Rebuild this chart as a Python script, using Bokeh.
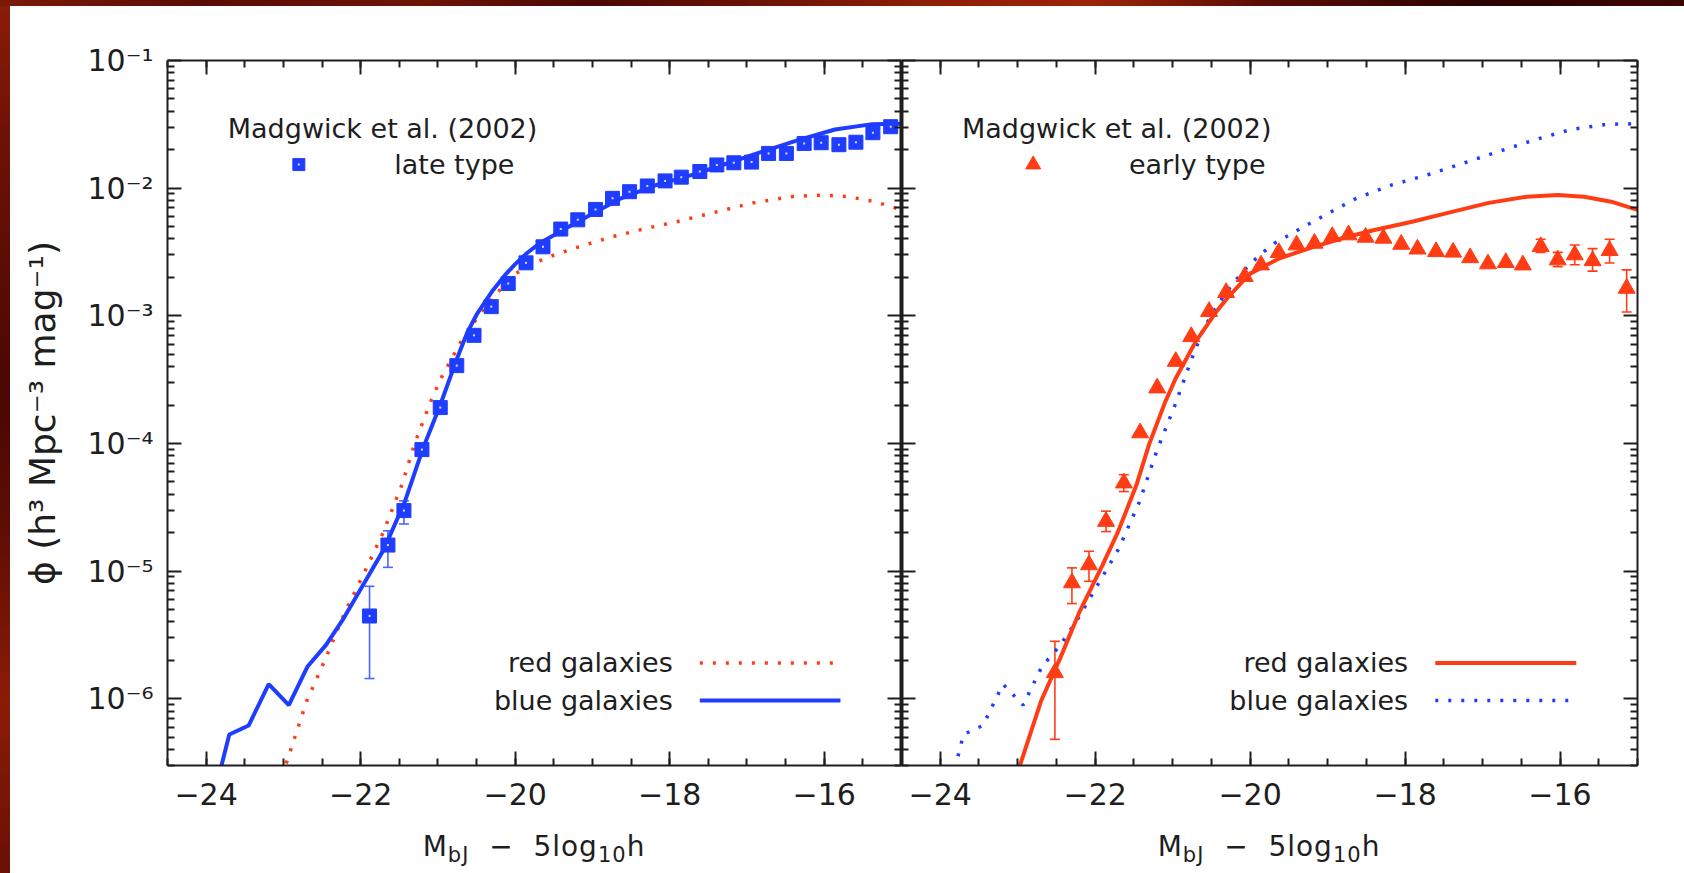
import numpy as np
from bokeh.plotting import figure
from bokeh.models import (ColumnDataSource, LinearAxis, LogAxis, FixedTicker, Whisker,
                          TeeHead, Label, Div, Range1d)
from bokeh.layouts import row, column
from bokeh.embed import file_html
from bokeh.resources import INLINE

# ---------------- data ----------------
# Madgwick et al. (2002) late type (blue squares)
late_mag = [-21.885, -21.647, -21.44, -21.207, -20.97, -20.756, -20.533, -20.31, -20.09, -19.86,
            -19.64, -19.41, -19.19, -18.96, -18.74, -18.52, -18.29, -18.06, -17.85, -17.61,
            -17.39, -17.17, -16.94, -16.72, -16.49, -16.26, -16.04, -15.81, -15.59, -15.37, -15.14]
late_phi = [4.45e-6, 1.60e-5, 2.98e-5, 8.95e-5, 1.91e-4, 4.07e-4, 7.03e-4, 1.18e-3, 1.79e-3, 2.60e-3,
            3.47e-3, 4.78e-3, 5.65e-3, 6.81e-3, 8.32e-3, 9.38e-3, 1.04e-2, 1.14e-2, 1.22e-2, 1.35e-2,
            1.52e-2, 1.58e-2, 1.60e-2, 1.87e-2, 1.87e-2, 2.24e-2, 2.27e-2, 2.19e-2, 2.29e-2, 2.72e-2, 3.03e-2]
late_err_mag = [-21.885, -21.647, -21.44]
late_err_lo = [1.44e-6, 1.07e-5, 2.34e-5]
late_err_hi = [7.6e-6, 2.07e-5, 3.55e-5]

# Madgwick et al. (2002) early type (red triangles)
early_mag = [-22.52, -22.30, -22.08, -21.86, -21.63, -21.42, -21.20, -20.96, -20.76, -20.53,
             -20.31, -20.07, -19.86, -19.63, -19.40, -19.17, -18.94, -18.73, -18.51, -18.28,
             -18.05, -17.84, -17.60, -17.38, -17.16, -16.93, -16.70, -16.48, -16.25, -16.03,
             -15.81, -15.58, -15.36, -15.14]
early_phi = [1.60e-6, 8.09e-6, 1.12e-5, 2.45e-5, 4.90e-5, 1.21e-4, 2.72e-4, 4.39e-4, 6.87e-4, 1.08e-3,
             1.52e-3, 2.03e-3, 2.50e-3, 3.13e-3, 3.59e-3, 3.70e-3, 4.17e-3, 4.30e-3, 4.12e-3, 4.05e-3,
             3.63e-3, 3.33e-3, 3.18e-3, 3.15e-3, 2.85e-3, 2.55e-3, 2.61e-3, 2.50e-3, 3.48e-3, 2.74e-3,
             3.00e-3, 2.70e-3, 3.24e-3, 1.64e-3]
early_err_mag = [-22.52, -22.30, -22.08, -21.86, -21.63, -16.25, -16.03, -15.81, -15.58, -15.36, -15.14]
early_err_lo = [4.81e-7, 5.57e-6, 8.32e-6, 2.04e-5, 4.2e-5, 3.13e-3, 2.43e-3, 2.51e-3, 2.24e-3, 2.59e-3, 1.07e-3]
early_err_hi = [2.82e-6, 1.06e-5, 1.43e-5, 2.95e-5, 5.69e-5, 3.98e-3, 3.14e-3, 3.59e-3, 3.36e-3, 3.98e-3, 2.29e-3]

# model luminosity functions
red_model_mag = [-23.10, -22.97, -22.70, -22.45, -22.21, -21.91, -21.71, -21.47, -21.30, -21.10,
                 -20.96, -20.70, -20.45, -20.28, -20.00, -19.62, -19.23, -18.80, -18.41, -17.91,
                 -17.42, -16.92, -16.43, -16.03, -15.69, -15.34, -15.00]
red_model_phi = [1.58e-7, 3.02e-7, 9.55e-7, 2.09e-6, 4.68e-6, 1.10e-5, 2.00e-5, 4.68e-5, 1.00e-4, 2.09e-4,
                 3.24e-4, 6.31e-4, 1.05e-3, 1.41e-3, 2.14e-3, 2.82e-3, 3.39e-3, 4.07e-3, 4.68e-3, 5.46e-3,
                 6.46e-3, 7.67e-3, 8.57e-3, 8.83e-3, 8.57e-3, 7.83e-3, 6.75e-3]
blue_model_mag = [-23.87, -23.80, -23.70, -23.45, -23.19, -22.93, -22.69, -22.45, -22.22, -21.98,
                  -21.70, -21.43, -21.20, -20.97, -20.75, -20.62, -20.50, -20.40, -20.29, -20.13,
                  -20.00, -19.85, -19.68, -19.50, -19.33, -19.00, -18.63, -18.17, -17.71, -17.26,
                  -16.80, -16.34, -15.86, -15.40, -15.00]
blue_model_phi = [1.78e-7, 3.02e-7, 5.25e-7, 6.17e-7, 1.30e-6, 8.91e-7, 1.78e-6, 2.63e-6, 4.27e-6, 7.59e-6,
                  1.48e-5, 3.47e-5, 8.91e-5, 2.00e-4, 4.68e-4, 7.41e-4, 1.02e-3, 1.26e-3, 1.58e-3, 2.09e-3,
                  2.54e-3, 3.09e-3, 3.72e-3, 4.27e-3, 4.90e-3, 6.31e-3, 8.32e-3, 1.06e-2, 1.27e-2, 1.56e-2,
                  1.93e-2, 2.38e-2, 2.88e-2, 3.16e-2, 3.20e-2]

x_tick_values = [-24, -22, -20, -18, -16]
x_tick_labels = ["\u221224", "\u221222", "\u221220", "\u221218", "\u221216"]
y_tick_values = [1e-6, 1e-5, 1e-4, 1e-3, 1e-2, 1e-1]
y_tick_labels = ["10\u207b\u2076", "10\u207b\u2075", "10\u207b\u2074",
                 "10\u207b\u00b3", "10\u207b\u00b2", "10\u207b\u00b9"]

# ---------------- style ----------------
BLUE = "#1f3dff"
RED = "#ff3c14"
INK = "#1e1e1e"
FONT = "DejaVu Sans"
DOTS = "3 10"
X_RANGE = (-24.5, -15.0)
Y_RANGE = (3.0e-7, 0.1)
FIG_H = 819
LABEL_H = 48

x_minor = list(np.arange(-24.5, -14.99, 0.5))
y_minor = [m * 10.0 ** e for e in range(-7, -1) for m in range(2, 10)
           if Y_RANGE[0] <= m * 10.0 ** e <= Y_RANGE[1]]


def style_axis(ax, ticks, labels=None, line_w=2):
    ax.axis_line_color = INK
    ax.axis_line_width = line_w
    ax.major_tick_in = 14
    ax.major_tick_out = 0
    ax.minor_tick_in = 7
    ax.minor_tick_out = 0
    ax.major_tick_line_color = INK
    ax.major_tick_line_width = 2
    ax.minor_tick_line_color = INK
    ax.minor_tick_line_width = 2
    if labels is not None:
        ax.major_label_overrides = dict(zip(ticks, labels))
        ax.major_label_text_font = FONT
        ax.major_label_text_font_size = "30px"
        ax.major_label_text_color = INK
    else:
        ax.major_label_overrides = {t: "" for t in ticks}
        ax.major_label_text_font_size = "1px"
        ax.major_label_standoff = 0


def panel(width, border_left, border_right, y_labels):
    p = figure(width=width, height=FIG_H, x_range=Range1d(*X_RANGE), y_range=Range1d(*Y_RANGE),
               y_axis_type="log", x_axis_location=None, y_axis_location=None,
               output_backend="svg", toolbar_location=None,
               min_border_left=border_left, min_border_right=border_right,
               min_border_top=54, min_border_bottom=60)
    p.outline_line_color = None
    p.background_fill_color = "white"
    p.border_fill_color = "white"
    p.grid.visible = False

    xt = FixedTicker(ticks=x_tick_values, minor_ticks=x_minor)
    yt = FixedTicker(ticks=y_tick_values, minor_ticks=y_minor)

    bottom = LinearAxis(ticker=xt)
    style_axis(bottom, x_tick_values, x_tick_labels)
    bottom.major_label_standoff = 17
    top = LinearAxis(ticker=xt)
    style_axis(top, x_tick_values)
    left = LogAxis(ticker=yt)
    right = LogAxis(ticker=yt)
    if y_labels:
        style_axis(left, y_tick_values, y_tick_labels, line_w=2)
        style_axis(right, y_tick_values, line_w=4)
        left.major_label_standoff = 14
        left.axis_label = "\u03d5 (h\u00b3 Mpc\u207b\u00b3 mag\u207b\u00b9)"
        left.axis_label_text_font = FONT
        left.axis_label_text_font_size = "36px"
        left.axis_label_text_font_style = "normal"
        left.axis_label_text_color = INK
        left.axis_label_standoff = 21
    else:
        style_axis(left, y_tick_values, line_w=4)
        style_axis(right, y_tick_values, line_w=2)
    p.add_layout(bottom, "below")
    p.add_layout(top, "above")
    p.add_layout(left, "left")
    p.add_layout(right, "right")
    return p


def x_title(frame_left, frame_width, right_pad):
    sub = "font-size:21px;position:relative;top:6px"
    html = (f"M<span style='{sub}'>bJ</span>&nbsp;&nbsp;&minus;&nbsp;&nbsp;"
            f"5log<span style='{sub}'>10</span>h")
    return Div(text=html, width=frame_width, height=LABEL_H, margin=(0, right_pad, 0, frame_left),
               styles={"font-family": FONT, "font-size": "28px", "color": INK,
                       "text-align": "center", "white-space": "nowrap", "line-height": "34px",
                       "letter-spacing": "1px", "padding-top": "5px", "background": "white"})


def text(p, x, y, t, align="left", baseline="alphabetic"):
    p.add_layout(Label(x=x, y=y, text=t, text_font=FONT, text_font_size="27px", text_color=INK,
                       text_align=align, text_baseline=baseline))


def squares(p, xs, ys, size):
    p.scatter(xs, ys, marker="square", size=size, fill_color=BLUE, line_color=BLUE, line_width=1)
    p.scatter(xs, ys, marker="square", size=2, fill_color="white", line_color=None, fill_alpha=0.8)


def errors(p, xs, lo, hi, color):
    src = ColumnDataSource(dict(x=xs, lo=lo, hi=hi))
    p.add_layout(Whisker(source=src, base="x", lower="lo", upper="hi", dimension="height",
                         line_color=color, line_width=1.6,
                         upper_head=TeeHead(size=10, line_color=color, line_width=1.6),
                         lower_head=TeeHead(size=10, line_color=color, line_width=1.6)))


# legend geometry (data coordinates of the in-plot key)
KEY_TITLE = (-23.72, 0.0294)
KEY_MARK = (-22.80, 0.0153)
KEY_TEXT = (-21.565, 0.0153)
KEY_LINE_X = [-17.61, -15.79]
KEY_TEXT_X = -17.96
KEY_RED_Y = 1.91e-6
KEY_BLUE_Y = 9.7e-7

# ---------------- left panel: late type ----------------
pl = panel(891, 157, 0, True)
pl.line(red_model_mag, red_model_phi, line_color=RED, line_width=3.5, line_dash=DOTS)
pl.line(blue_model_mag, blue_model_phi, line_color=BLUE, line_width=4)
errors(pl, late_err_mag, late_err_lo, late_err_hi, "#4a66ff")
squares(pl, late_mag, late_phi, 14)

text(pl, KEY_TITLE[0], KEY_TITLE[1], "Madgwick et al. (2002)")
squares(pl, [KEY_MARK[0]], [KEY_MARK[1]], 12)
text(pl, KEY_TEXT[0], KEY_TEXT[1], "late type")
text(pl, KEY_TEXT_X, KEY_RED_Y, "red galaxies", align="right", baseline="middle")
text(pl, KEY_TEXT_X, KEY_BLUE_Y, "blue galaxies", align="right", baseline="middle")
pl.line(KEY_LINE_X, [KEY_RED_Y, KEY_RED_Y], line_color=RED, line_width=3.5, line_dash=DOTS)
pl.line(KEY_LINE_X, [KEY_BLUE_Y, KEY_BLUE_Y], line_color=BLUE, line_width=4)

# ---------------- right panel: early type ----------------
pr = panel(783, 0, 47, False)
pr.line(blue_model_mag, blue_model_phi, line_color=BLUE, line_width=3.5, line_dash=DOTS)
pr.line(red_model_mag, red_model_phi, line_color=RED, line_width=4)
errors(pr, early_err_mag, early_err_lo, early_err_hi, RED)
pr.scatter(early_mag, early_phi, marker="triangle", size=17, fill_color=RED, line_color=RED)

text(pr, KEY_TITLE[0], KEY_TITLE[1], "Madgwick et al. (2002)")
pr.scatter([KEY_MARK[0]], [KEY_MARK[1]], marker="triangle", size=15, fill_color=RED, line_color=RED)
text(pr, KEY_TEXT[0], KEY_TEXT[1], "early type")
text(pr, KEY_TEXT_X, KEY_RED_Y, "red galaxies", align="right", baseline="middle")
text(pr, KEY_TEXT_X, KEY_BLUE_Y, "blue galaxies", align="right", baseline="middle")
pr.line(KEY_LINE_X, [KEY_RED_Y, KEY_RED_Y], line_color=RED, line_width=4)
pr.line(KEY_LINE_X, [KEY_BLUE_Y, KEY_BLUE_Y], line_color=BLUE, line_width=3.5, line_dash=DOTS)

# ---------------- x-axis titles (HTML for the subscripts) ----------------
lab_l = x_title(157, 734, 0)
lab_r = x_title(0, 736, 47)

# ---------------- dark red frame strips ----------------
top_strip = Div(text="", width=1684, height=6, margin=0,
                styles={"background": "linear-gradient(90deg, #7c1a07 0%, #5a0c04 12%, #6e1405 25%, "
                                      "#4a0803 35%, #8e1e06 55%, #9c2408 65%, #5a0d04 75%, "
                                      "#2a0302 88%, #3e0603 100%)"})
left_strip = Div(text="", width=10, height=FIG_H + LABEL_H, margin=0,
                 styles={"background": "linear-gradient(180deg, #8a1c08 0%, #6e1206 15%, #4a0703 45%, "
                                       "#5e0d04 60%, #8a1c07 80%, #6a1005 100%)"})

layout = column(top_strip,
                row(left_strip,
                    column(pl, lab_l, spacing=0),
                    column(pr, lab_r, spacing=0),
                    spacing=0),
                spacing=0)

open("out.html", "w").write(file_html(layout, INLINE))
